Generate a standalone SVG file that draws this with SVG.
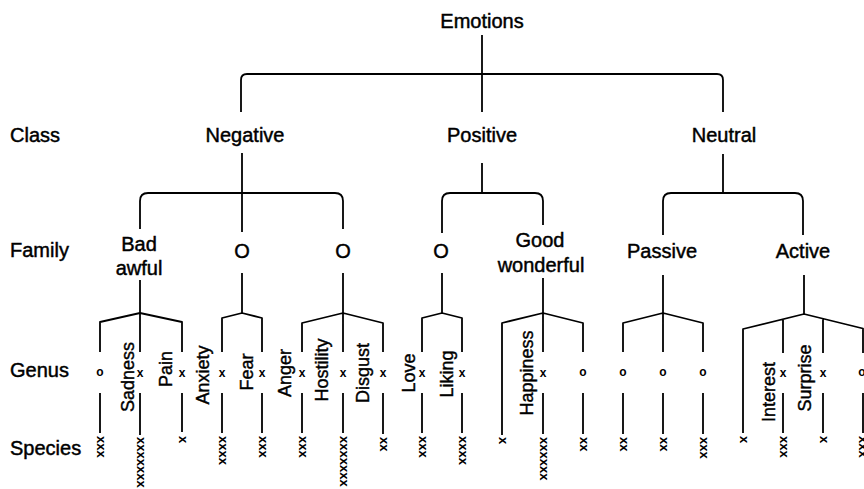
<svg xmlns="http://www.w3.org/2000/svg" width="864" height="489" viewBox="0 0 864 489">
  <style>
    .t { font-family: "Liberation Sans", Arial, sans-serif; font-size: 20px; fill: #000; stroke: #000; stroke-width: 0.45; }
    .c { text-anchor: middle; }
    .g { font-family: "Liberation Sans", Arial, sans-serif; font-size: 18px; fill: #000; stroke: #000; stroke-width: 0.4; text-anchor: middle; }
    .m { font-family: "Liberation Sans", Arial, sans-serif; font-size: 12px; font-weight: bold; fill: #000; text-anchor: middle; }
    .sp { font-family: "Liberation Sans", Arial, sans-serif; font-size: 13px; font-weight: bold; fill: #000; }
    .ln { fill: none; stroke: #000; stroke-width: 1.8; stroke-linejoin: round; }
  </style>
  <rect width="864" height="489" fill="#fff"/>

  <!-- level names down the left side -->
  <g id="row-labels">
    <text class="t" x="10" y="142">Class</text>
    <text class="t" x="10" y="257">Family</text>
    <text class="t" x="10" y="377">Genus</text>
    <text class="t" x="10" y="455">Species</text>
  </g>

  <!-- connectors -->
  <g id="connectors" class="ln">
    <!-- root to classes -->
    <path d="M482,35 V112"/>
    <path d="M241,112 V80 Q241,74 247,74 H717 Q723,74 723,80 V112"/>
    <!-- classes to families -->
    <path d="M242,153 V232"/>
    <path d="M140,229 V201 Q140,193 148,193 H335 Q343,193 343,201 V229"/>
    <path d="M482,163 V193"/>
    <path d="M442,233 V201 Q442,193 450,193 H535 Q543,193 543,201 V225"/>
    <path d="M723,154 V193"/>
    <path d="M663,235 V201 Q663,193 671,193 H795 Q803,193 803,201 V235"/>
    <!-- families to genus brackets -->
    <path d="M140,280 V313"/>
    <path d="M242,273 V313"/>
    <path d="M343,273 V313"/>
    <path d="M442,273 V313"/>
    <path d="M543,278 V313"/>
    <path d="M663,275 V313"/>
    <path d="M804,275 V314"/>
    <!-- genus brackets -->
    <path d="M100,352 V322 L140,313 L182,322 V352 M140,313 V352"/>
    <path d="M222,352 V318 L242,313 L262,318 V352"/>
    <path d="M302,352 V323 L343,313 L383,323 V352 M343,313 V352"/>
    <path d="M422,352 V318 L442,313 L462,318 V352"/>
    <path d="M502,435 V323 L543,313 L583,323 V352 M543,313 V352"/>
    <path d="M623,352 V323 L663,313 L703,323 V352 M663,313 V352"/>
    <path d="M743,433 V329 L804,314 L863,328.5 V353 M783,319.2 V353 M823,318.7 V353"/>
    <!-- genus to species -->
    <path d="M100,393 V433 M140,393 V435 M182,393 V432"/>
    <path d="M222,393 V433 M262,393 V433"/>
    <path d="M302,393 V433 M343,393 V433 M383,393 V434"/>
    <path d="M422,393 V433 M462,393 V433"/>
    <path d="M543,393 V434 M583,393 V434"/>
    <path d="M623,393 V434 M663,393 V434 M703,393 V434"/>
    <path d="M783,393 V433 M823,393 V433 M863,393 V433"/>
  </g>

  <!-- root -->
  <g id="emotions"><text class="t c" x="482" y="28">Emotions</text></g>

  <!-- classes -->
  <g id="negative"><text class="t c" x="245" y="142">Negative</text></g>
  <g id="positive"><text class="t c" x="482" y="142">Positive</text></g>
  <g id="neutral"><text class="t c" x="724" y="142">Neutral</text></g>

  <!-- families -->
  <g id="bad-awful">
    <text class="t c" x="139" y="251">Bad</text>
    <text class="t c" x="139" y="275">awful</text>
  </g>
  <g id="neg-o1"><text class="t c" x="242" y="258" font-size="22">O</text></g>
  <g id="neg-o2"><text class="t c" x="343" y="258" font-size="22">O</text></g>
  <g id="pos-o"><text class="t c" x="441" y="258" font-size="22">O</text></g>
  <g id="good-wonderful">
    <text class="t c" x="540" y="247">Good</text>
    <text class="t c" x="541" y="272">wonderful</text>
  </g>
  <g id="passive"><text class="t c" x="662" y="258">Passive</text></g>
  <g id="active"><text class="t c" x="803" y="258">Active</text></g>

  <!-- genus under Bad awful -->
  <g id="genus-bad">
    <text class="m" x="100" y="376">o</text>
    <text class="m" x="140" y="377">x</text>
    <text class="m" x="182" y="377">x</text>
    <text class="g" transform="translate(134,377) rotate(-90)">Sadness</text>
    <text class="g" transform="translate(172,369) rotate(-90)">Pain</text>
  </g>
  <!-- genus under first O -->
  <g id="genus-neg-o1">
    <text class="m" x="222" y="377">x</text>
    <text class="m" x="262" y="377">x</text>
    <text class="g" transform="translate(209,375) rotate(-90)">Anxiety</text>
    <text class="g" transform="translate(253,372) rotate(-90)">Fear</text>
  </g>
  <!-- genus under second O -->
  <g id="genus-neg-o2">
    <text class="m" x="302" y="377">x</text>
    <text class="m" x="343" y="377">x</text>
    <text class="m" x="383" y="377">x</text>
    <text class="g" transform="translate(291,373) rotate(-90)">Anger</text>
    <text class="g" transform="translate(328,370) rotate(-90)">Hostility</text>
    <text class="g" transform="translate(369,373) rotate(-90)">Disgust</text>
  </g>
  <!-- genus under positive O -->
  <g id="genus-pos-o">
    <text class="m" x="422" y="377">x</text>
    <text class="m" x="462" y="377">x</text>
    <text class="g" transform="translate(415,373) rotate(-90)">Love</text>
    <text class="g" transform="translate(453,374) rotate(-90)">Liking</text>
  </g>
  <!-- genus under Good wonderful -->
  <g id="genus-good">
    <text class="m" x="543" y="377">x</text>
    <text class="m" x="583" y="376">o</text>
    <text class="g" transform="translate(533,373) rotate(-90)">Happiness</text>
  </g>
  <!-- genus under Passive -->
  <g id="genus-passive">
    <text class="m" x="623" y="376">o</text>
    <text class="m" x="663" y="376">o</text>
    <text class="m" x="703" y="376">o</text>
  </g>
  <!-- genus under Active -->
  <g id="genus-active">
    <text class="m" x="783" y="377">x</text>
    <text class="m" x="823" y="377">x</text>
    <text class="m" x="862" y="376">o</text>
    <text class="g" transform="translate(775,392) rotate(-90)">Interest</text>
    <text class="g" transform="translate(811,378) rotate(-90)">Surprise</text>
  </g>

  <!-- species counts, written top to bottom -->
  <g id="species">
    <text class="sp" transform="translate(96.6,436) rotate(90)">xxx</text>
    <text class="sp" transform="translate(136.6,437) rotate(90)">xxxxxxx</text>
    <text class="sp" transform="translate(178.6,436) rotate(90)">x</text>
    <text class="sp" transform="translate(218.6,436) rotate(90)">xxxx</text>
    <text class="sp" transform="translate(258.6,436) rotate(90)">xxx</text>
    <text class="sp" transform="translate(298.6,436) rotate(90)">xxx</text>
    <text class="sp" transform="translate(339.6,436) rotate(90)">xxxxxxx</text>
    <text class="sp" transform="translate(379.6,437) rotate(90)">xx</text>
    <text class="sp" transform="translate(418.6,436) rotate(90)">xxx</text>
    <text class="sp" transform="translate(458.6,436) rotate(90)">xxxx</text>
    <text class="sp" transform="translate(498.6,437) rotate(90)">x</text>
    <text class="sp" transform="translate(539.6,437) rotate(90)">xxxxxx</text>
    <text class="sp" transform="translate(579.6,437) rotate(90)">xx</text>
    <text class="sp" transform="translate(619.6,437) rotate(90)">xx</text>
    <text class="sp" transform="translate(659.6,437) rotate(90)">xx</text>
    <text class="sp" transform="translate(699.6,437) rotate(90)">xxx</text>
    <text class="sp" transform="translate(739.6,436) rotate(90)">x</text>
    <text class="sp" transform="translate(779.6,436) rotate(90)">xxx</text>
    <text class="sp" transform="translate(819.6,436) rotate(90)">x</text>
    <text class="sp" transform="translate(858.6,436) rotate(90)">xxx</text>
  </g>
</svg>
